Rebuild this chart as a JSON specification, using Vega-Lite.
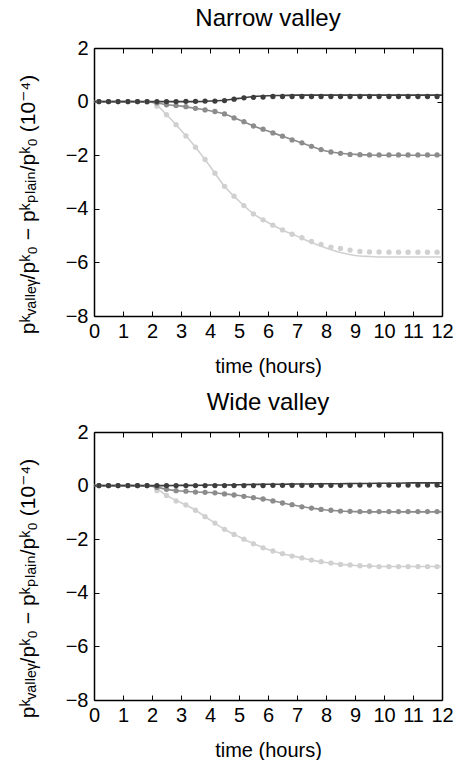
{
"$schema":"https://vega.github.io/schema/vega-lite/v6.json",
"background":"white",
"padding":{"left":17,"top":7,"right":5,"bottom":0},
"bounds":"flush",
"spacing":116,
"config":{"font":"Liberation Sans, DejaVu Sans","view":{"stroke":null},
"axis":{"grid":false,"domainColor":"black","domainWidth":1.5,"tickColor":"black","tickWidth":1,"tickSize":-5,"labelColor":"black","labelFontSize":20,"labelFont":"Liberation Sans","titleColor":"black","titleFontWeight":"normal","labelOverlap":false,"labelFlush":false,"labelPadding":10}},
"datasets":{
"narrow":[
{"series":"light","kind":"line","t":0,"v":0},{"series":"light","kind":"line","t":0.5,"v":0},{"series":"light","kind":"line","t":1,"v":0},{"series":"light","kind":"line","t":1.5,"v":0},{"series":"light","kind":"line","t":2,"v":-0.03},{"series":"light","kind":"line","t":2.5,"v":-0.49},{"series":"light","kind":"line","t":3,"v":-1.07},{"series":"light","kind":"line","t":3.5,"v":-1.7},{"series":"light","kind":"line","t":4,"v":-2.41},{"series":"light","kind":"line","t":4.5,"v":-3.16},{"series":"light","kind":"line","t":5,"v":-3.71},{"series":"light","kind":"line","t":5.5,"v":-4.19},{"series":"light","kind":"line","t":6,"v":-4.51},{"series":"light","kind":"line","t":6.5,"v":-4.79},{"series":"light","kind":"line","t":7,"v":-5.02},{"series":"light","kind":"line","t":7.5,"v":-5.26},{"series":"light","kind":"line","t":8,"v":-5.46},{"series":"light","kind":"line","t":8.5,"v":-5.63},{"series":"light","kind":"line","t":9,"v":-5.74},{"series":"light","kind":"line","t":9.5,"v":-5.78},{"series":"light","kind":"line","t":10,"v":-5.8},{"series":"light","kind":"line","t":10.5,"v":-5.8},{"series":"light","kind":"line","t":11,"v":-5.8},{"series":"light","kind":"line","t":11.5,"v":-5.8},{"series":"light","kind":"line","t":12,"v":-5.8},
{"series":"medium","kind":"line","t":0,"v":0},{"series":"medium","kind":"line","t":0.5,"v":0},{"series":"medium","kind":"line","t":1,"v":0},{"series":"medium","kind":"line","t":1.5,"v":0},{"series":"medium","kind":"line","t":2,"v":-0.02},{"series":"medium","kind":"line","t":2.5,"v":-0.12},{"series":"medium","kind":"line","t":3,"v":-0.17},{"series":"medium","kind":"line","t":3.5,"v":-0.25},{"series":"medium","kind":"line","t":4,"v":-0.34},{"series":"medium","kind":"line","t":4.5,"v":-0.46},{"series":"medium","kind":"line","t":5,"v":-0.68},{"series":"medium","kind":"line","t":5.5,"v":-0.91},{"series":"medium","kind":"line","t":6,"v":-1.1},{"series":"medium","kind":"line","t":6.5,"v":-1.29},{"series":"medium","kind":"line","t":7,"v":-1.48},{"series":"medium","kind":"line","t":7.5,"v":-1.67},{"series":"medium","kind":"line","t":8,"v":-1.84},{"series":"medium","kind":"line","t":8.5,"v":-1.93},{"series":"medium","kind":"line","t":9,"v":-1.97},{"series":"medium","kind":"line","t":9.5,"v":-1.99},{"series":"medium","kind":"line","t":10,"v":-2},{"series":"medium","kind":"line","t":10.5,"v":-2},{"series":"medium","kind":"line","t":11,"v":-2},{"series":"medium","kind":"line","t":11.5,"v":-2},{"series":"medium","kind":"line","t":12,"v":-2},
{"series":"dark","kind":"line","t":0,"v":0},{"series":"dark","kind":"line","t":0.5,"v":0},{"series":"dark","kind":"line","t":1,"v":0},{"series":"dark","kind":"line","t":1.5,"v":0},{"series":"dark","kind":"line","t":2,"v":0},{"series":"dark","kind":"line","t":2.5,"v":0},{"series":"dark","kind":"line","t":3,"v":0},{"series":"dark","kind":"line","t":3.5,"v":0},{"series":"dark","kind":"line","t":4,"v":0.02},{"series":"dark","kind":"line","t":4.5,"v":0.05},{"series":"dark","kind":"line","t":5,"v":0.12},{"series":"dark","kind":"line","t":5.5,"v":0.19},{"series":"dark","kind":"line","t":6,"v":0.22},{"series":"dark","kind":"line","t":6.5,"v":0.23},{"series":"dark","kind":"line","t":7,"v":0.24},{"series":"dark","kind":"line","t":7.5,"v":0.24},{"series":"dark","kind":"line","t":8,"v":0.24},{"series":"dark","kind":"line","t":8.5,"v":0.24},{"series":"dark","kind":"line","t":9,"v":0.24},{"series":"dark","kind":"line","t":9.5,"v":0.24},{"series":"dark","kind":"line","t":10,"v":0.24},{"series":"dark","kind":"line","t":10.5,"v":0.24},{"series":"dark","kind":"line","t":11,"v":0.24},{"series":"dark","kind":"line","t":11.5,"v":0.24},{"series":"dark","kind":"line","t":12,"v":0.24},
{"series":"light","kind":"dot","t":0.17,"v":0},{"series":"light","kind":"dot","t":0.5,"v":0},{"series":"light","kind":"dot","t":0.83,"v":0},{"series":"light","kind":"dot","t":1.17,"v":0},{"series":"light","kind":"dot","t":1.5,"v":0},{"series":"light","kind":"dot","t":1.83,"v":-0.02},{"series":"light","kind":"dot","t":2.17,"v":-0.17},{"series":"light","kind":"dot","t":2.5,"v":-0.49},{"series":"light","kind":"dot","t":2.83,"v":-0.86},{"series":"light","kind":"dot","t":3.17,"v":-1.28},{"series":"light","kind":"dot","t":3.5,"v":-1.7},{"series":"light","kind":"dot","t":3.83,"v":-2.16},{"series":"light","kind":"dot","t":4.17,"v":-2.67},{"series":"light","kind":"dot","t":4.5,"v":-3.16},{"series":"light","kind":"dot","t":4.83,"v":-3.53},{"series":"light","kind":"dot","t":5.17,"v":-3.88},{"series":"light","kind":"dot","t":5.5,"v":-4.19},{"series":"light","kind":"dot","t":5.83,"v":-4.41},{"series":"light","kind":"dot","t":6.17,"v":-4.61},{"series":"light","kind":"dot","t":6.5,"v":-4.79},{"series":"light","kind":"dot","t":6.83,"v":-4.95},{"series":"light","kind":"dot","t":7.17,"v":-5.08},{"series":"light","kind":"dot","t":7.5,"v":-5.22},{"series":"light","kind":"dot","t":7.83,"v":-5.33},{"series":"light","kind":"dot","t":8.17,"v":-5.43},{"series":"light","kind":"dot","t":8.5,"v":-5.48},{"series":"light","kind":"dot","t":8.83,"v":-5.54},{"series":"light","kind":"dot","t":9.17,"v":-5.59},{"series":"light","kind":"dot","t":9.5,"v":-5.61},{"series":"light","kind":"dot","t":9.83,"v":-5.61},{"series":"light","kind":"dot","t":10.17,"v":-5.62},{"series":"light","kind":"dot","t":10.5,"v":-5.62},{"series":"light","kind":"dot","t":10.83,"v":-5.62},{"series":"light","kind":"dot","t":11.17,"v":-5.62},{"series":"light","kind":"dot","t":11.5,"v":-5.62},{"series":"light","kind":"dot","t":11.83,"v":-5.62},
{"series":"medium","kind":"dot","t":0.17,"v":0},{"series":"medium","kind":"dot","t":0.5,"v":0},{"series":"medium","kind":"dot","t":0.83,"v":0},{"series":"medium","kind":"dot","t":1.17,"v":0},{"series":"medium","kind":"dot","t":1.5,"v":0},{"series":"medium","kind":"dot","t":1.83,"v":0},{"series":"medium","kind":"dot","t":2.17,"v":-0.05},{"series":"medium","kind":"dot","t":2.5,"v":-0.12},{"series":"medium","kind":"dot","t":2.83,"v":-0.15},{"series":"medium","kind":"dot","t":3.17,"v":-0.19},{"series":"medium","kind":"dot","t":3.5,"v":-0.25},{"series":"medium","kind":"dot","t":3.83,"v":-0.31},{"series":"medium","kind":"dot","t":4.17,"v":-0.37},{"series":"medium","kind":"dot","t":4.5,"v":-0.46},{"series":"medium","kind":"dot","t":4.83,"v":-0.61},{"series":"medium","kind":"dot","t":5.17,"v":-0.75},{"series":"medium","kind":"dot","t":5.5,"v":-0.91},{"series":"medium","kind":"dot","t":5.83,"v":-1.03},{"series":"medium","kind":"dot","t":6.17,"v":-1.17},{"series":"medium","kind":"dot","t":6.5,"v":-1.29},{"series":"medium","kind":"dot","t":6.83,"v":-1.43},{"series":"medium","kind":"dot","t":7.17,"v":-1.54},{"series":"medium","kind":"dot","t":7.5,"v":-1.67},{"series":"medium","kind":"dot","t":7.83,"v":-1.79},{"series":"medium","kind":"dot","t":8.17,"v":-1.88},{"series":"medium","kind":"dot","t":8.5,"v":-1.93},{"series":"medium","kind":"dot","t":8.83,"v":-1.97},{"series":"medium","kind":"dot","t":9.17,"v":-1.98},{"series":"medium","kind":"dot","t":9.5,"v":-1.99},{"series":"medium","kind":"dot","t":9.83,"v":-1.99},{"series":"medium","kind":"dot","t":10.17,"v":-1.99},{"series":"medium","kind":"dot","t":10.5,"v":-1.99},{"series":"medium","kind":"dot","t":10.83,"v":-1.99},{"series":"medium","kind":"dot","t":11.17,"v":-1.99},{"series":"medium","kind":"dot","t":11.5,"v":-1.99},{"series":"medium","kind":"dot","t":11.83,"v":-1.99},
{"series":"dark","kind":"dot","t":0.17,"v":0},{"series":"dark","kind":"dot","t":0.5,"v":0},{"series":"dark","kind":"dot","t":0.83,"v":0},{"series":"dark","kind":"dot","t":1.17,"v":0},{"series":"dark","kind":"dot","t":1.5,"v":0},{"series":"dark","kind":"dot","t":1.83,"v":0},{"series":"dark","kind":"dot","t":2.17,"v":0},{"series":"dark","kind":"dot","t":2.5,"v":0},{"series":"dark","kind":"dot","t":2.83,"v":0},{"series":"dark","kind":"dot","t":3.17,"v":0.01},{"series":"dark","kind":"dot","t":3.5,"v":0.01},{"series":"dark","kind":"dot","t":3.83,"v":0.02},{"series":"dark","kind":"dot","t":4.17,"v":0.02},{"series":"dark","kind":"dot","t":4.5,"v":0.04},{"series":"dark","kind":"dot","t":4.83,"v":0.09},{"series":"dark","kind":"dot","t":5.17,"v":0.14},{"series":"dark","kind":"dot","t":5.5,"v":0.16},{"series":"dark","kind":"dot","t":5.83,"v":0.17},{"series":"dark","kind":"dot","t":6.17,"v":0.19},{"series":"dark","kind":"dot","t":6.5,"v":0.19},{"series":"dark","kind":"dot","t":6.83,"v":0.19},{"series":"dark","kind":"dot","t":7.17,"v":0.19},{"series":"dark","kind":"dot","t":7.5,"v":0.19},{"series":"dark","kind":"dot","t":7.83,"v":0.19},{"series":"dark","kind":"dot","t":8.17,"v":0.19},{"series":"dark","kind":"dot","t":8.5,"v":0.19},{"series":"dark","kind":"dot","t":8.83,"v":0.19},{"series":"dark","kind":"dot","t":9.17,"v":0.19},{"series":"dark","kind":"dot","t":9.5,"v":0.19},{"series":"dark","kind":"dot","t":9.83,"v":0.19},{"series":"dark","kind":"dot","t":10.17,"v":0.19},{"series":"dark","kind":"dot","t":10.5,"v":0.19},{"series":"dark","kind":"dot","t":10.83,"v":0.19},{"series":"dark","kind":"dot","t":11.17,"v":0.19},{"series":"dark","kind":"dot","t":11.5,"v":0.19},{"series":"dark","kind":"dot","t":11.83,"v":0.19}
],
"wide":[
{"series":"light","kind":"line","t":0,"v":0},{"series":"light","kind":"line","t":0.5,"v":0},{"series":"light","kind":"line","t":1,"v":0},{"series":"light","kind":"line","t":1.5,"v":0},{"series":"light","kind":"line","t":2,"v":-0.03},{"series":"light","kind":"line","t":2.5,"v":-0.37},{"series":"light","kind":"line","t":3,"v":-0.64},{"series":"light","kind":"line","t":3.5,"v":-0.92},{"series":"light","kind":"line","t":4,"v":-1.28},{"series":"light","kind":"line","t":4.5,"v":-1.63},{"series":"light","kind":"line","t":5,"v":-1.91},{"series":"light","kind":"line","t":5.5,"v":-2.17},{"series":"light","kind":"line","t":6,"v":-2.38},{"series":"light","kind":"line","t":6.5,"v":-2.54},{"series":"light","kind":"line","t":7,"v":-2.66},{"series":"light","kind":"line","t":7.5,"v":-2.78},{"series":"light","kind":"line","t":8,"v":-2.87},{"series":"light","kind":"line","t":8.5,"v":-2.94},{"series":"light","kind":"line","t":9,"v":-2.98},{"series":"light","kind":"line","t":9.5,"v":-3},{"series":"light","kind":"line","t":10,"v":-3.02},{"series":"light","kind":"line","t":10.5,"v":-3.02},{"series":"light","kind":"line","t":11,"v":-3.02},{"series":"light","kind":"line","t":11.5,"v":-3.02},{"series":"light","kind":"line","t":12,"v":-3.02},
{"series":"medium","kind":"line","t":0,"v":0},{"series":"medium","kind":"line","t":0.5,"v":0},{"series":"medium","kind":"line","t":1,"v":0},{"series":"medium","kind":"line","t":1.5,"v":0},{"series":"medium","kind":"line","t":2,"v":-0.02},{"series":"medium","kind":"line","t":2.5,"v":-0.14},{"series":"medium","kind":"line","t":3,"v":-0.2},{"series":"medium","kind":"line","t":3.5,"v":-0.24},{"series":"medium","kind":"line","t":4,"v":-0.26},{"series":"medium","kind":"line","t":4.5,"v":-0.31},{"series":"medium","kind":"line","t":5,"v":-0.37},{"series":"medium","kind":"line","t":5.5,"v":-0.45},{"series":"medium","kind":"line","t":6,"v":-0.53},{"series":"medium","kind":"line","t":6.5,"v":-0.65},{"series":"medium","kind":"line","t":7,"v":-0.75},{"series":"medium","kind":"line","t":7.5,"v":-0.84},{"series":"medium","kind":"line","t":8,"v":-0.91},{"series":"medium","kind":"line","t":8.5,"v":-0.95},{"series":"medium","kind":"line","t":9,"v":-0.97},{"series":"medium","kind":"line","t":9.5,"v":-0.98},{"series":"medium","kind":"line","t":10,"v":-0.98},{"series":"medium","kind":"line","t":10.5,"v":-0.98},{"series":"medium","kind":"line","t":11,"v":-0.98},{"series":"medium","kind":"line","t":11.5,"v":-0.98},{"series":"medium","kind":"line","t":12,"v":-0.98},
{"series":"dark","kind":"line","t":0,"v":0},{"series":"dark","kind":"line","t":0.5,"v":0},{"series":"dark","kind":"line","t":1,"v":0},{"series":"dark","kind":"line","t":1.5,"v":0},{"series":"dark","kind":"line","t":2,"v":0},{"series":"dark","kind":"line","t":2.5,"v":0},{"series":"dark","kind":"line","t":3,"v":0.01},{"series":"dark","kind":"line","t":3.5,"v":0.01},{"series":"dark","kind":"line","t":4,"v":0.02},{"series":"dark","kind":"line","t":4.5,"v":0.02},{"series":"dark","kind":"line","t":5,"v":0.03},{"series":"dark","kind":"line","t":5.5,"v":0.04},{"series":"dark","kind":"line","t":6,"v":0.05},{"series":"dark","kind":"line","t":6.5,"v":0.05},{"series":"dark","kind":"line","t":7,"v":0.06},{"series":"dark","kind":"line","t":7.5,"v":0.06},{"series":"dark","kind":"line","t":8,"v":0.07},{"series":"dark","kind":"line","t":8.5,"v":0.07},{"series":"dark","kind":"line","t":9,"v":0.08},{"series":"dark","kind":"line","t":9.5,"v":0.08},{"series":"dark","kind":"line","t":10,"v":0.09},{"series":"dark","kind":"line","t":10.5,"v":0.09},{"series":"dark","kind":"line","t":11,"v":0.1},{"series":"dark","kind":"line","t":11.5,"v":0.1},{"series":"dark","kind":"line","t":12,"v":0.1},
{"series":"light","kind":"dot","t":0.17,"v":0},{"series":"light","kind":"dot","t":0.5,"v":0},{"series":"light","kind":"dot","t":0.83,"v":0},{"series":"light","kind":"dot","t":1.17,"v":0},{"series":"light","kind":"dot","t":1.5,"v":0},{"series":"light","kind":"dot","t":1.83,"v":0},{"series":"light","kind":"dot","t":2.17,"v":-0.19},{"series":"light","kind":"dot","t":2.5,"v":-0.37},{"series":"light","kind":"dot","t":2.83,"v":-0.57},{"series":"light","kind":"dot","t":3.17,"v":-0.72},{"series":"light","kind":"dot","t":3.5,"v":-0.92},{"series":"light","kind":"dot","t":3.83,"v":-1.16},{"series":"light","kind":"dot","t":4.17,"v":-1.4},{"series":"light","kind":"dot","t":4.5,"v":-1.63},{"series":"light","kind":"dot","t":4.83,"v":-1.82},{"series":"light","kind":"dot","t":5.17,"v":-2},{"series":"light","kind":"dot","t":5.5,"v":-2.17},{"series":"light","kind":"dot","t":5.83,"v":-2.32},{"series":"light","kind":"dot","t":6.17,"v":-2.44},{"series":"light","kind":"dot","t":6.5,"v":-2.54},{"series":"light","kind":"dot","t":6.83,"v":-2.63},{"series":"light","kind":"dot","t":7.17,"v":-2.7},{"series":"light","kind":"dot","t":7.5,"v":-2.78},{"series":"light","kind":"dot","t":7.83,"v":-2.84},{"series":"light","kind":"dot","t":8.17,"v":-2.89},{"series":"light","kind":"dot","t":8.5,"v":-2.94},{"series":"light","kind":"dot","t":8.83,"v":-2.96},{"series":"light","kind":"dot","t":9.17,"v":-2.99},{"series":"light","kind":"dot","t":9.5,"v":-3},{"series":"light","kind":"dot","t":9.83,"v":-3.02},{"series":"light","kind":"dot","t":10.17,"v":-3.02},{"series":"light","kind":"dot","t":10.5,"v":-3.02},{"series":"light","kind":"dot","t":10.83,"v":-3.02},{"series":"light","kind":"dot","t":11.17,"v":-3.02},{"series":"light","kind":"dot","t":11.5,"v":-3.02},{"series":"light","kind":"dot","t":11.83,"v":-3.02},
{"series":"medium","kind":"dot","t":0.17,"v":0},{"series":"medium","kind":"dot","t":0.5,"v":0},{"series":"medium","kind":"dot","t":0.83,"v":0},{"series":"medium","kind":"dot","t":1.17,"v":0},{"series":"medium","kind":"dot","t":1.5,"v":0},{"series":"medium","kind":"dot","t":1.83,"v":0},{"series":"medium","kind":"dot","t":2.17,"v":-0.07},{"series":"medium","kind":"dot","t":2.5,"v":-0.14},{"series":"medium","kind":"dot","t":2.83,"v":-0.19},{"series":"medium","kind":"dot","t":3.17,"v":-0.21},{"series":"medium","kind":"dot","t":3.5,"v":-0.24},{"series":"medium","kind":"dot","t":3.83,"v":-0.25},{"series":"medium","kind":"dot","t":4.17,"v":-0.27},{"series":"medium","kind":"dot","t":4.5,"v":-0.31},{"series":"medium","kind":"dot","t":4.83,"v":-0.35},{"series":"medium","kind":"dot","t":5.17,"v":-0.4},{"series":"medium","kind":"dot","t":5.5,"v":-0.45},{"series":"medium","kind":"dot","t":5.83,"v":-0.5},{"series":"medium","kind":"dot","t":6.17,"v":-0.57},{"series":"medium","kind":"dot","t":6.5,"v":-0.65},{"series":"medium","kind":"dot","t":6.83,"v":-0.71},{"series":"medium","kind":"dot","t":7.17,"v":-0.79},{"series":"medium","kind":"dot","t":7.5,"v":-0.84},{"series":"medium","kind":"dot","t":7.83,"v":-0.89},{"series":"medium","kind":"dot","t":8.17,"v":-0.92},{"series":"medium","kind":"dot","t":8.5,"v":-0.95},{"series":"medium","kind":"dot","t":8.83,"v":-0.96},{"series":"medium","kind":"dot","t":9.17,"v":-0.97},{"series":"medium","kind":"dot","t":9.5,"v":-0.97},{"series":"medium","kind":"dot","t":9.83,"v":-0.97},{"series":"medium","kind":"dot","t":10.17,"v":-0.97},{"series":"medium","kind":"dot","t":10.5,"v":-0.97},{"series":"medium","kind":"dot","t":10.83,"v":-0.97},{"series":"medium","kind":"dot","t":11.17,"v":-0.97},{"series":"medium","kind":"dot","t":11.5,"v":-0.97},{"series":"medium","kind":"dot","t":11.83,"v":-0.97},
{"series":"dark","kind":"dot","t":0.17,"v":0},{"series":"dark","kind":"dot","t":0.5,"v":0},{"series":"dark","kind":"dot","t":0.83,"v":0},{"series":"dark","kind":"dot","t":1.17,"v":0},{"series":"dark","kind":"dot","t":1.5,"v":0},{"series":"dark","kind":"dot","t":1.83,"v":0},{"series":"dark","kind":"dot","t":2.17,"v":0},{"series":"dark","kind":"dot","t":2.5,"v":0},{"series":"dark","kind":"dot","t":2.83,"v":0},{"series":"dark","kind":"dot","t":3.17,"v":0},{"series":"dark","kind":"dot","t":3.5,"v":0},{"series":"dark","kind":"dot","t":3.83,"v":0},{"series":"dark","kind":"dot","t":4.17,"v":0},{"series":"dark","kind":"dot","t":4.5,"v":0},{"series":"dark","kind":"dot","t":4.83,"v":0},{"series":"dark","kind":"dot","t":5.17,"v":0},{"series":"dark","kind":"dot","t":5.5,"v":0},{"series":"dark","kind":"dot","t":5.83,"v":0},{"series":"dark","kind":"dot","t":6.17,"v":0.01},{"series":"dark","kind":"dot","t":6.5,"v":0.01},{"series":"dark","kind":"dot","t":6.83,"v":0.01},{"series":"dark","kind":"dot","t":7.17,"v":0.01},{"series":"dark","kind":"dot","t":7.5,"v":0.01},{"series":"dark","kind":"dot","t":7.83,"v":0.01},{"series":"dark","kind":"dot","t":8.17,"v":0.01},{"series":"dark","kind":"dot","t":8.5,"v":0.01},{"series":"dark","kind":"dot","t":8.83,"v":0.01},{"series":"dark","kind":"dot","t":9.17,"v":0.02},{"series":"dark","kind":"dot","t":9.5,"v":0.02},{"series":"dark","kind":"dot","t":9.83,"v":0.02},{"series":"dark","kind":"dot","t":10.17,"v":0.02},{"series":"dark","kind":"dot","t":10.5,"v":0.02},{"series":"dark","kind":"dot","t":10.83,"v":0.02},{"series":"dark","kind":"dot","t":11.17,"v":0.02},{"series":"dark","kind":"dot","t":11.5,"v":0.02},{"series":"dark","kind":"dot","t":11.83,"v":0.02}
]},
"vconcat":[
{"width":348,"height":268,"data":{"name":"narrow"},
"title":{"text":"Narrow valley","fontSize":24,"fontWeight":"normal","font":"Liberation Sans","color":"black","frame":"group","anchor":"middle","baseline":"alphabetic","offset":-12},
"layer":[
{"transform":[{"filter":"datum.kind == 'line'"}],"mark":{"type":"line","interpolate":"monotone","strokeWidth":1.6},
"encoding":{"x":{"field":"t","type":"quantitative","scale":{"domain":[0,12],"nice":false,"zero":false},"axis":{"orient":"bottom","values":[0,1,2,3,4,5,6,7,8,9,10,11,12],"title":"time (hours)","titleFontSize":20,"titleFont":"Liberation Sans","titlePadding":15}},
"y":{"field":"v","type":"quantitative","scale":{"domain":[-8,2],"nice":false,"zero":false},"axis":{"orient":"left","values":[-8,-6,-4,-2,0,2],"title":"pᵏᵥₐₗₗₑᵧ/pᵏ₀ − pᵏₚₗₐᵢₙ/pᵏ₀ (10⁻⁴)","titleFontSize":21,"titleAngle":-90,"titleX":-60,"titleY":156,"titleAlign":"center","titleBaseline":"alphabetic","labelPadding":11}},
"color":{"field":"series","type":"nominal","scale":{"domain":["light","medium","dark"],"range":["#d0d0d0","#8c8c8c","#3d3d3d"]},"legend":null}}},
{"transform":[{"filter":"datum.kind == 'dot'"}],"mark":{"type":"circle","size":28,"opacity":1},
"encoding":{"x":{"field":"t","type":"quantitative","axis":{"orient":"top","values":[0,1,2,3,4,5,6,7,8,9,10,11,12],"labels":false,"title":null}},
"y":{"field":"v","type":"quantitative","axis":{"orient":"right","values":[-8,-6,-4,-2,0,2],"labels":false,"title":null}},
"color":{"field":"series","type":"nominal","legend":null}}}
]},
{"width":348,"height":268,"data":{"name":"wide"},
"title":{"text":"Wide valley","fontSize":24,"fontWeight":"normal","font":"Liberation Sans","color":"black","frame":"group","anchor":"middle","baseline":"alphabetic","offset":-12},
"layer":[
{"transform":[{"filter":"datum.kind == 'line'"}],"mark":{"type":"line","interpolate":"monotone","strokeWidth":1.6},
"encoding":{"x":{"field":"t","type":"quantitative","scale":{"domain":[0,12],"nice":false,"zero":false},"axis":{"orient":"bottom","values":[0,1,2,3,4,5,6,7,8,9,10,11,12],"title":"time (hours)","titleFontSize":20,"titleFont":"Liberation Sans","titlePadding":15}},
"y":{"field":"v","type":"quantitative","scale":{"domain":[-8,2],"nice":false,"zero":false},"axis":{"orient":"left","values":[-8,-6,-4,-2,0,2],"title":"pᵏᵥₐₗₗₑᵧ/pᵏ₀ − pᵏₚₗₐᵢₙ/pᵏ₀ (10⁻⁴)","titleFontSize":21,"titleAngle":-90,"titleX":-60,"titleY":156,"titleAlign":"center","titleBaseline":"alphabetic","labelPadding":11}},
"color":{"field":"series","type":"nominal","scale":{"domain":["light","medium","dark"],"range":["#d0d0d0","#8c8c8c","#3d3d3d"]},"legend":null}}},
{"transform":[{"filter":"datum.kind == 'dot'"}],"mark":{"type":"circle","size":28,"opacity":1},
"encoding":{"x":{"field":"t","type":"quantitative","axis":{"orient":"top","values":[0,1,2,3,4,5,6,7,8,9,10,11,12],"labels":false,"title":null}},
"y":{"field":"v","type":"quantitative","axis":{"orient":"right","values":[-8,-6,-4,-2,0,2],"labels":false,"title":null}},
"color":{"field":"series","type":"nominal","legend":null}}}
]}
]}
